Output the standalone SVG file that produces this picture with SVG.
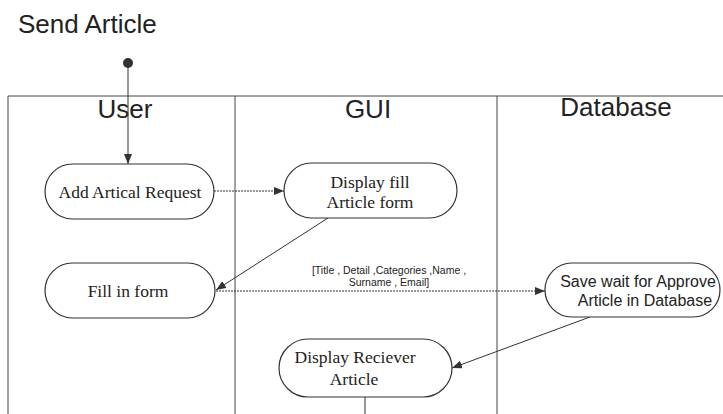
<svg xmlns="http://www.w3.org/2000/svg" width="723" height="414" viewBox="0 0 723 414">
<defs>
<style>
.lane{fill:none;stroke:#444;stroke-width:1}
.node{fill:#fff;stroke:#333;stroke-width:1.2}
.edge{fill:none;stroke:#333;stroke-width:1}
.dot{stroke-dasharray:2 1}
.hdr{font-family:"Liberation Sans",Arial,sans-serif;font-size:26px;fill:#222}
.serif{font-family:"Liberation Serif","Times New Roman",serif;font-size:17.5px;fill:#222}
.sans{font-family:"Liberation Sans",Arial,sans-serif;font-size:16px;fill:#222}
.small{font-family:"Liberation Sans",Arial,sans-serif;font-size:10.5px;fill:#222}
</style>
<marker id="arr" viewBox="0 0 10 8" refX="10" refY="4" markerWidth="10" markerHeight="8" markerUnits="userSpaceOnUse" orient="auto">
<path d="M0,0 L10,4 L0,8 Z" fill="#333"/>
</marker>
</defs>
<rect width="723" height="414" fill="#fff"/>
<text x="18" y="33" class="hdr">Send Article</text>
<g id="lanes">
<path class="lane" d="M8,414 V96 H723 M235,96 V414 M497,96 V414"/>
<text x="125" y="118" text-anchor="middle" class="hdr">User</text>
<text x="368" y="118" text-anchor="middle" class="hdr">GUI</text>
<text x="616" y="116" text-anchor="middle" class="hdr">Database</text>
</g>
<g id="start"><circle cx="128" cy="63" r="5" fill="#333"/></g>
<g id="connectors">
<path class="edge" d="M128,63 V164" marker-end="url(#arr)"/>
<path class="edge dot" d="M214,191 H284" marker-end="url(#arr)"/>
<path class="edge" d="M328,218 L216,290" marker-end="url(#arr)"/>
<path class="edge dot" d="M216,291 H545" marker-end="url(#arr)"/>
<path class="edge" d="M590,317 L452,368" marker-end="url(#arr)"/>
<path class="edge" d="M365,397 V414"/>
<text x="389" y="273.5" text-anchor="middle" class="small">[Title , Detail ,Categories ,Name ,</text>
<text x="389" y="286" text-anchor="middle" class="small">Surname , Email]</text>
</g>
<g id="add-request">
<rect class="node" x="45" y="164" width="169" height="55" rx="27.5"/>
<text x="130" y="198" text-anchor="middle" class="serif">Add Artical Request</text>
</g>
<g id="display-form">
<rect class="node" x="284" y="163" width="173" height="55" rx="27.5"/>
<text x="370" y="188" text-anchor="middle" class="serif">Display fill</text>
<text x="370" y="208" text-anchor="middle" class="serif">Article  form</text>
</g>
<g id="fill-form">
<rect class="node" x="45" y="263" width="170" height="55" rx="27.5"/>
<text x="128" y="297" text-anchor="middle" class="serif">Fill in form</text>
</g>
<g id="save">
<rect class="node" x="545" y="263" width="175" height="54" rx="27"/>
<text x="638" y="287" text-anchor="middle" class="sans">Save wait for Approve</text>
<text x="645" y="306" text-anchor="middle" class="sans">Article in Database</text>
</g>
<g id="display-receiver">
<rect class="node" x="279" y="339" width="173" height="58" rx="29"/>
<text x="355" y="363" text-anchor="middle" class="serif">Display Reciever</text>
<text x="354" y="385" text-anchor="middle" class="serif">Article</text>
</g>
</svg>
